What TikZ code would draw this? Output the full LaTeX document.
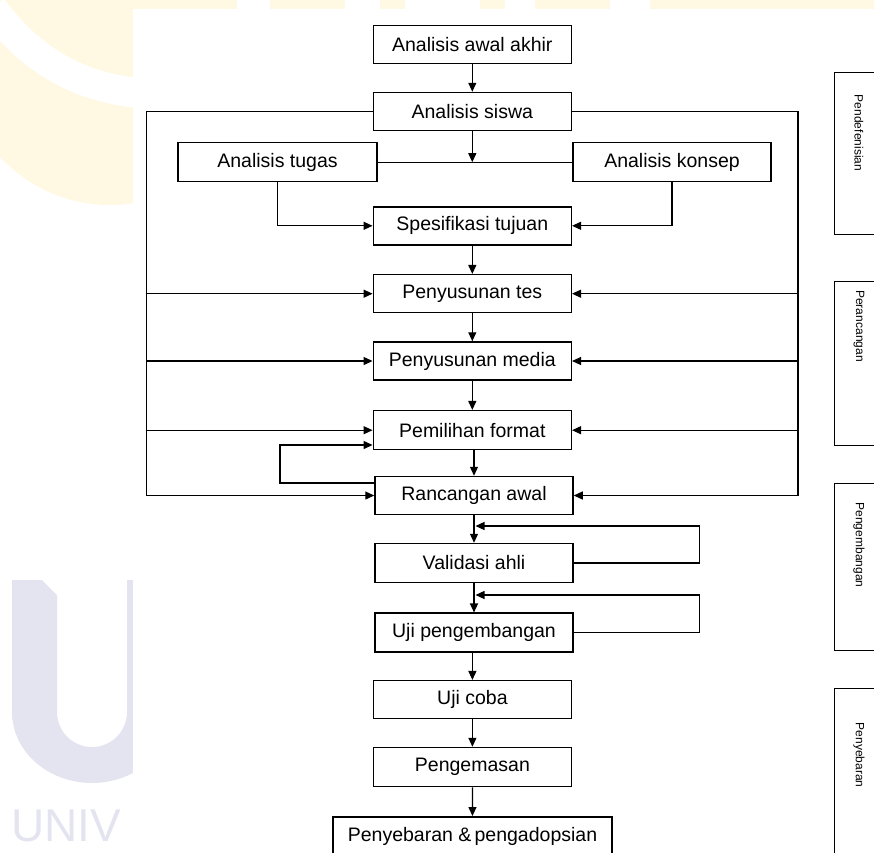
\documentclass[tikz,border=0pt]{standalone}
\usepackage{fontspec}
\setmainfont{Liberation Sans}
\usetikzlibrary{arrows.meta}
\definecolor{wmY}{RGB}{255,248,226}
\definecolor{wmB}{RGB}{228,228,240}
\begin{document}
\begin{tikzpicture}[x=1pt,y=-1pt,
  box/.style={draw, line width=1.5pt, fill=white, inner sep=0pt,
    minimum width=198pt, minimum height=38pt,
    font=\fontsize{19.5}{22}\selectfont},
  phase/.style={draw, line width=1.3pt, fill=white, anchor=north west,
    minimum width=54pt, inner sep=0pt},
  phasetext/.style={rotate=-90, inner sep=0pt, font=\fontsize{12}{14}\selectfont},
  line/.style={draw, line width=1.2pt},
  arr/.style={line, -{Triangle[length=9pt,width=8pt]}}]
\useasboundingbox (0,0) rectangle (874,852);
\begin{scope}
\clip (0,0) rectangle (874,852);
% ---- watermark ----
\fill[wmY] (0,0) rectangle (874,9);
\fill[wmY] (110,55) circle (150);
\fill[white] (237,0) rectangle (270,9);
\fill[white] (345,0) rectangle (380,9);
\fill[white] (405,0) rectangle (480,9);
\fill[white] (505,0) rectangle (535,9);
\fill[white] (610,0) rectangle (650,9);
\draw[white, line width=30pt] (-8,8) .. controls (35,65) and (85,90) .. (150,94);
\fill[wmB] (12,580) -- (12,712) arc[start angle=180,end angle=0,x radius=80,y radius=71]
  -- (172,580) -- (127,580) -- (127,712) arc[start angle=0,end angle=180,radius=35]
  -- (57,595) -- (42,580) -- cycle;
\fill[white] (133,9) rectangle (874,852);
% ---- main column ----
\node[box] (awal) at (472.3,44.5) {Analisis awal akhir};
\node[box] (siswa) at (472.3,111.5) {Analisis siswa};
\node[box, minimum width=199pt, minimum height=39pt] (tugas) at (277.5,162.2) {Analisis tugas};
\node[box, minimum height=39pt] (konsep) at (672,162.2) {Analisis konsep};
\node[box] (spes) at (472.3,225.8) {Spesifikasi tujuan};
\node[box] (tes) at (472.3,293.7) {Penyusunan tes};
\node[box] (media) at (472.3,361) {Penyusunan media};
\node[box, minimum height=39pt] (format) at (472.3,430.2) {Pemilihan format};
\node[box] (ranc) at (474,495.5) {Rancangan awal};
\node[box, minimum height=39pt] (valid) at (474,563) {Validasi ahli};
\node[box, minimum height=39pt] (ujipeng) at (474,632.7) {Uji pengembangan};
\node[box] (ujicoba) at (472.4,699.7) {Uji coba};
\node[box, minimum height=39pt] (kemas) at (472.4,767) {Pengemasan};
\node[box, minimum width=279pt, minimum height=38.5pt] (sebar) at (472.5,836) {Penyebaran \&\,pengadopsian};
% ---- phase boxes ----
\node[phase, minimum height=162pt] (p1) at (834,72) {};
\node[phase, minimum height=164pt] (p2) at (834,281) {};
\node[phase, minimum height=167pt] (p3) at (834,483) {};
\node[phase, minimum height=200pt] (p4) at (834,688) {};
\node[phasetext] (t1) at (859,133) {Pendefenisian};
\node[phasetext] (t2) at (859,326) {Perancangan};
\node[phasetext] (t3) at (859,545) {Pengembangan};
\node[phasetext] (t4) at (859,755) {Penyebaran};
% ---- coordinates ----
\coordinate (Lx) at (146.6,0);
\coordinate (Rx) at (798,0);
\coordinate (loopL) at (280,0);
\coordinate (Rloop) at (699.5,0);
\coordinate (j) at (472.3,162.2);
\coordinate (fin) at (format.west |- 0,445);
\coordinate (rout) at (ranc.west |- 0,483);
\coordinate (vin) at (475.5,526);
\coordinate (uin) at (475.5,595);
% ---- connectors ----
\draw[arr] (awal) -- (siswa);
\draw[arr] (siswa.south) -- (j);
\draw[line] (tugas.east) -- (konsep.west);
\draw[arr] (tugas.south) |- (spes.west);
\draw[arr] (konsep.south) |- (spes.east);
\draw[arr] (spes) -- (tes);
\draw[arr] (tes) -- (media);
\draw[arr] (media) -- (format);
\draw[arr] (format.south -| ranc.north) -- (ranc.north);
\draw[arr] (siswa.west) -| (Lx |- ranc.west) -- (ranc.west);
\draw[arr] (siswa.east) -| (Rx |- ranc.east) -- (ranc.east);
\draw[arr] (Lx |- tes.west) -- (tes.west);
\draw[arr] (Lx |- media.west) -- (media.west);
\draw[arr] (Lx |- format.west) -- (format.west);
\draw[arr] (Rx |- tes.east) -- (tes.east);
\draw[arr] (Rx |- media.east) -- (media.east);
\draw[arr] (Rx |- format.east) -- (format.east);
\draw[arr] (rout) -| (loopL |- fin) -- (fin);
\draw[arr] (ranc) -- (valid);
\draw[arr] (valid.east) -| (Rloop |- vin) -- (vin);
\draw[arr] (valid) -- (ujipeng);
\draw[arr] (ujipeng.east) -| (Rloop |- uin) -- (uin);
\draw[arr] (ujipeng.south -| ujicoba.north) -- (ujicoba.north);
\draw[arr] (ujicoba) -- (kemas);
\draw[arr] (kemas) -- (sebar);
\end{scope}
\node[anchor=base west, inner sep=0pt, text=wmB, font=\fontsize{46}{46}\selectfont] (wm) at (11,841) {UNIV};
\end{tikzpicture}
\end{document}
